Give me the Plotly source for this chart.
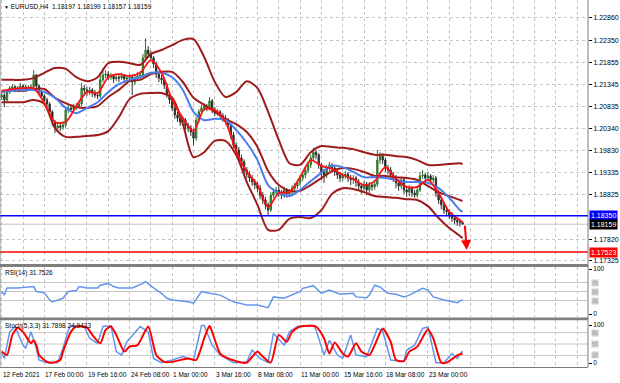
import plotly.graph_objects as go

# ---------------- DATA ----------------
first_open = 1.2106
closes = [
    1.2110, 1.2099, 1.2117, 1.2126, 1.2129, 1.2122, 1.2126, 1.2131, 1.2129, 1.2124,
    1.2126, 1.2129, 1.2156, 1.2131, 1.2117, 1.2108, 1.2099, 1.2090, 1.2072, 1.2049,
    1.2035, 1.2040, 1.2037, 1.2042, 1.2076, 1.2081, 1.2078, 1.2083, 1.2085, 1.2090,
    1.2126, 1.2122, 1.2117, 1.2122, 1.2115, 1.2110, 1.2108, 1.2145, 1.2156, 1.2158,
    1.2151, 1.2154, 1.2147, 1.2151, 1.2149, 1.2154, 1.2147, 1.2149, 1.2151, 1.2140,
    1.2149, 1.2154, 1.2156, 1.2195, 1.2213, 1.2204, 1.2195, 1.2181, 1.2158, 1.2149,
    1.2145, 1.2133, 1.2110, 1.2099, 1.2081, 1.2065, 1.2058, 1.2049, 1.2053, 1.2040,
    1.2035, 1.2026, 1.2012, 1.2053, 1.2072, 1.2081, 1.2085, 1.2081, 1.2097, 1.2076,
    1.2069, 1.2072, 1.2063, 1.2058, 1.2053, 1.2042, 1.2019, 1.1996, 1.1985, 1.1967,
    1.1958, 1.1939, 1.1930, 1.1921, 1.1912, 1.1905, 1.1898, 1.1882, 1.1871, 1.1860,
    1.1848, 1.1882, 1.1889, 1.1894, 1.1887, 1.1882, 1.1894, 1.1885, 1.1889, 1.1898,
    1.1903, 1.1910, 1.1921, 1.1928, 1.1939, 1.1951, 1.1967, 1.1980, 1.1974, 1.1951,
    1.1935, 1.1928, 1.1944, 1.1951, 1.1944, 1.1935, 1.1928, 1.1921, 1.1926, 1.1930,
    1.1921, 1.1917, 1.1921, 1.1912, 1.1903, 1.1898, 1.1907, 1.1894, 1.1905, 1.1901,
    1.1907, 1.1962, 1.1971, 1.1962, 1.1944, 1.1939, 1.1928, 1.1921, 1.1910, 1.1903,
    1.1917, 1.1894, 1.1889, 1.1898, 1.1887, 1.1882, 1.1894, 1.1926, 1.1928, 1.1921,
    1.1926, 1.1917, 1.1921, 1.1887, 1.1871, 1.1860, 1.1848, 1.1844, 1.1837, 1.1830,
    1.1825, 1.1821, 1.18197, 1.18159]
highs = [
    1.2117, 1.2115, 1.2122, 1.2131, 1.2135, 1.2133, 1.2131, 1.2138, 1.2135, 1.2133,
    1.2133, 1.2135, 1.2167, 1.2158, 1.2135, 1.2122, 1.2113, 1.2104, 1.2094, 1.2076,
    1.2053, 1.2047, 1.2047, 1.2051, 1.2083, 1.2088, 1.2088, 1.2090, 1.2092, 1.2097,
    1.2138, 1.2133, 1.2129, 1.2129, 1.2126, 1.2122, 1.2117, 1.2163, 1.2172, 1.2167,
    1.2165, 1.2161, 1.2158, 1.2158, 1.2158, 1.2161, 1.2158, 1.2156, 1.2158, 1.2156,
    1.2156, 1.2163, 1.2165, 1.2204, 1.2240, 1.2222, 1.2211, 1.2199, 1.2186, 1.2165,
    1.2156, 1.2151, 1.2138, 1.2117, 1.2104, 1.2085, 1.2072, 1.2065, 1.2060, 1.2058,
    1.2047, 1.2042, 1.2033, 1.2060, 1.2078, 1.2088, 1.2092, 1.2090, 1.2106, 1.2101,
    1.2083, 1.2078, 1.2076, 1.2069, 1.2065, 1.2058, 1.2047, 1.2026, 1.2003, 1.1992,
    1.1974, 1.1964, 1.1946, 1.1937, 1.1928, 1.1919, 1.1912, 1.1905, 1.1889, 1.1878,
    1.1866, 1.1889, 1.1898, 1.1901, 1.1901, 1.1894, 1.1901, 1.1898, 1.1896, 1.1905,
    1.1910, 1.1917, 1.1928, 1.1935, 1.1946, 1.1958, 1.1974, 1.1990, 1.1985, 1.1978,
    1.1955, 1.1942, 1.1951, 1.1958, 1.1955, 1.1949, 1.1939, 1.1935, 1.1933, 1.1937,
    1.1935, 1.1928, 1.1928, 1.1926, 1.1919, 1.1910, 1.1914, 1.1912, 1.1912, 1.1912,
    1.1917, 1.1985, 1.1980, 1.1978, 1.1967, 1.1951, 1.1946, 1.1935, 1.1928, 1.1917,
    1.1923, 1.1921, 1.1901, 1.1905, 1.1903, 1.1894, 1.1903, 1.1935, 1.1939, 1.1933,
    1.1935, 1.1930, 1.1928, 1.1926, 1.1894, 1.1878, 1.1864, 1.1855, 1.1850, 1.1844,
    1.1837, 1.1832, 1.1828, 1.18199]
lows = [
    1.2099, 1.2083, 1.2092, 1.2113, 1.2120, 1.2117, 1.2117, 1.2122, 1.2122, 1.2117,
    1.2120, 1.2122, 1.2124, 1.2124, 1.2110, 1.2101, 1.2092, 1.2083, 1.2065, 1.2040,
    1.2024, 1.2028, 1.2028, 1.2031, 1.2037, 1.2069, 1.2072, 1.2072, 1.2076, 1.2081,
    1.2085, 1.2113, 1.2108, 1.2110, 1.2106, 1.2104, 1.2101, 1.2104, 1.2140, 1.2149,
    1.2145, 1.2145, 1.2138, 1.2142, 1.2140, 1.2145, 1.2138, 1.2140, 1.2142, 1.2110,
    1.2133, 1.2142, 1.2147, 1.2151, 1.2190, 1.2195, 1.2188, 1.2172, 1.2149, 1.2140,
    1.2135, 1.2124, 1.2104, 1.2090, 1.2074, 1.2056, 1.2049, 1.2040, 1.2042, 1.2031,
    1.2026, 1.2017, 1.1996, 1.2006, 1.2047, 1.2065, 1.2074, 1.2074, 1.2076, 1.2069,
    1.2063, 1.2063, 1.2056, 1.2049, 1.2044, 1.2033, 1.2010, 1.1990, 1.1976, 1.1958,
    1.1949, 1.1930, 1.1921, 1.1912, 1.1903, 1.1896, 1.1889, 1.1873, 1.1862, 1.1850,
    1.1837, 1.1844, 1.1876, 1.1882, 1.1878, 1.1873, 1.1876, 1.1876, 1.1878, 1.1882,
    1.1892, 1.1896, 1.1903, 1.1914, 1.1921, 1.1933, 1.1944, 1.1960, 1.1964, 1.1942,
    1.1917, 1.1910, 1.1921, 1.1937, 1.1935, 1.1926, 1.1919, 1.1912, 1.1914, 1.1919,
    1.1912, 1.1905, 1.1907, 1.1901, 1.1894, 1.1885, 1.1889, 1.1882, 1.1887, 1.1892,
    1.1894, 1.1901, 1.1953, 1.1953, 1.1935, 1.1930, 1.1919, 1.1912, 1.1898, 1.1892,
    1.1896, 1.1885, 1.1878, 1.1880, 1.1878, 1.1876, 1.1876, 1.1889, 1.1919, 1.1912,
    1.1914, 1.1907, 1.1910, 1.1878, 1.1862, 1.1850, 1.1839, 1.1835, 1.1828, 1.1821,
    1.1816, 1.1812, 1.1810, 1.18157]
opens = [first_open] + closes[:-1]
bars = list(range(len(closes)))

# indicator lines sampled every 4 bars (plus the last bar)
line_bars = list(range(0, 173, 4)) + [173]
ma_fast = [1.2120, 1.2124, 1.2126, 1.2126, 1.2092, 1.2049, 1.2049, 1.2085, 1.2117, 1.2115,
           1.2151, 1.2158, 1.2154, 1.2161, 1.2190, 1.2161, 1.2099, 1.2058, 1.2028, 1.2078,
           1.2076, 1.2049, 1.1983, 1.1935, 1.1905, 1.1855, 1.1887, 1.1889, 1.1923, 1.1962,
           1.1949, 1.1942, 1.1928, 1.1919, 1.1905, 1.1914, 1.1946, 1.1919, 1.1901, 1.1901,
           1.1917, 1.1887, 1.1844, 1.1825, 1.1821]
ma_slow = [1.2117, 1.2120, 1.2122, 1.2122, 1.2117, 1.2104, 1.2081, 1.2069, 1.2081, 1.2094,
           1.2117, 1.2135, 1.2145, 1.2151, 1.2161, 1.2161, 1.2151, 1.2122, 1.2072, 1.2053,
           1.2056, 1.2053, 1.2031, 1.2001, 1.1962, 1.1905, 1.1887, 1.1880, 1.1894, 1.1914,
           1.1933, 1.1949, 1.1946, 1.1935, 1.1923, 1.1923, 1.1921, 1.1917, 1.1912, 1.1912,
           1.1910, 1.1898, 1.1876, 1.1848, 1.1844]
bb_upper = [1.2145, 1.2145, 1.2145, 1.2149, 1.2161, 1.2172, 1.2170, 1.2151, 1.2142, 1.2151,
            1.2183, 1.2186, 1.2183, 1.2179, 1.2204, 1.2213, 1.2224, 1.2236, 1.2238, 1.2197,
            1.2140, 1.2106, 1.2117, 1.2142, 1.2126, 1.2072, 1.2008, 1.1955, 1.1951, 1.1980,
            1.1994, 1.1992, 1.1990, 1.1987, 1.1980, 1.1974, 1.1974, 1.1971, 1.1969, 1.1962,
            1.1951, 1.1951, 1.1953, 1.1955, 1.1953]
bb_mid = [1.2120, 1.2120, 1.2120, 1.2124, 1.2124, 1.2104, 1.2092, 1.2083, 1.2081, 1.2085,
          1.2106, 1.2122, 1.2142, 1.2145, 1.2158, 1.2163, 1.2163, 1.2140, 1.2104, 1.2088,
          1.2072, 1.2056, 1.2044, 1.2026, 1.1992, 1.1937, 1.1905, 1.1892, 1.1892, 1.1905,
          1.1921, 1.1937, 1.1944, 1.1942, 1.1935, 1.1926, 1.1926, 1.1923, 1.1921, 1.1917,
          1.1903, 1.1889, 1.1880, 1.1871, 1.1869]
bb_lower = [1.2094, 1.2094, 1.2094, 1.2099, 1.2090, 1.2035, 1.2015, 1.2015, 1.2017, 1.2019,
            1.2028, 1.2060, 1.2101, 1.2113, 1.2115, 1.2115, 1.2104, 1.2044, 1.1969, 1.1980,
            1.2006, 1.2006, 1.1974, 1.1912, 1.1860, 1.1803, 1.1803, 1.1828, 1.1832, 1.1830,
            1.1848, 1.1885, 1.1898, 1.1896, 1.1889, 1.1880, 1.1878, 1.1876, 1.1873, 1.1871,
            1.1857, 1.1830, 1.1807, 1.1789, 1.1784]

rsi_bars = [0, 1, 2, 6, 12, 13, 16, 18, 19, 23, 25, 28, 29, 32, 36, 37, 40, 42, 44, 49,
            53, 54, 57, 60, 62, 64, 70, 72, 75, 77, 82, 87, 92, 96, 100, 102, 106, 110, 112, 113,
            117, 120, 123, 127, 132, 133, 137, 138, 140, 142, 145, 148, 151, 153, 158, 160, 162, 166, 171, 173]
rsi_vals = [50, 42, 58, 58, 61, 50, 47, 31, 27, 35, 50, 52, 61, 58, 58, 64, 68, 61, 58, 58,
            68, 72, 58, 46, 35, 31, 27, 24, 50, 47, 42, 27, 20, 20, 14, 38, 35, 46, 50, 57,
            63, 46, 53, 44, 46, 38, 36, 42, 64, 60, 46, 44, 38, 42, 57, 53, 38, 31, 25, 31.7526]

k_bars = [0, 1, 3, 5, 8, 9, 11, 13, 14, 17, 21, 23, 25, 26, 31, 33, 36, 38, 41, 43,
          45, 47, 52, 55, 57, 60, 64, 68, 72, 75, 76, 79, 82, 87, 92, 94, 97, 100, 102, 106,
          108, 111, 117, 118, 121, 123, 126, 128, 131, 133, 137, 141, 143, 146, 151, 152, 155, 158, 160, 163,
          166, 169, 171, 173]
k_vals = [26, 12, 82, 96, 47, 39, 82, 39, 8, 1, 1, 39, 87, 98, 96, 65, 52, 96, 98, 30,
          21, 56, 96, 82, 12, 1, 8, 17, 8, 99, 99, 47, 21, 1, 3, 34, 12, 1, 78, 47,
          82, 96, 99, 87, 21, 60, 21, 12, 74, 21, 17, 91, 85, 8, 5, 34, 47, 91, 95, 1,
          1, 25, 12, 31.7898]
d_bars = [0, 2, 4, 6, 8, 11, 12, 13, 14, 17, 19, 22, 23, 26, 28, 32, 34, 37, 39, 41,
          43, 46, 48, 51, 55, 58, 61, 64, 70, 73, 76, 78, 79, 82, 85, 90, 92, 96, 98, 101,
          104, 107, 109, 112, 118, 121, 123, 125, 128, 130, 133, 135, 138, 140, 143, 146, 148, 151, 153, 156,
          160, 162, 165, 167, 171, 173]
d_vals = [30, 21, 74, 93, 82, 52, 60, 47, 21, 3, 1, 8, 30, 82, 96, 93, 74, 52, 87, 96,
          74, 30, 43, 47, 96, 21, 3, 3, 12, 8, 65, 98, 82, 25, 12, 1, 1, 30, 17, 1,
          74, 56, 82, 96, 96, 65, 25, 54, 25, 17, 52, 30, 21, 47, 91, 56, 8, 5, 30, 43,
          89, 65, 1, 1, 20, 24.9433]

price_ticks = [1.22860, 1.22350, 1.21855, 1.21345, 1.20835, 1.20340, 1.19830,
               1.19335, 1.18825, 1.17820, 1.17325]
time_bars = [0, 16, 32, 48, 64, 80, 96, 112, 128, 144, 160]
time_labels = ["12 Feb 2021", "17 Feb 00:00", "19 Feb 16:00", "24 Feb 08:00", "1 Mar 00:00",
               "3 Mar 16:00", "8 Mar 08:00", "11 Mar 00:00", "15 Mar 16:00", "18 Mar 08:00",
               "23 Mar 00:00"]
level_blue = 1.18350
level_red = 1.17523
bid = 1.18159
rsi_levels = [70, 50, 30]
stoch_levels = [80, 50, 20]
title_text = "EURUSD,H4  1.18197 1.18199 1.18157 1.18159"
rsi_text = "RSI(14) 31.7526"
stoch_text = "Stoch(5,3,3) 31.7898 24.9433"

# ---------------- FIGURE ----------------
FONT = "Liberation Sans, Arial, sans-serif"
GRID = "#c4c4c4"
BB_COL = "#9e1b1b"
H_PLOT = 367.0


def py(p):
    return 1 - p / H_PLOT


fig = go.Figure()

fig.add_trace(go.Candlestick(
    x=bars, open=opens, high=highs, low=lows, close=closes,
    increasing=dict(line=dict(color="#2f6f2f", width=1), fillcolor="#2db52d"),
    decreasing=dict(line=dict(color="#303030", width=1), fillcolor="#202020"),
    whiskerwidth=0, xaxis="x", yaxis="y", hoverinfo="skip"))

for arr, col, w in [(bb_upper, BB_COL, 2), (bb_mid, BB_COL, 2), (bb_lower, BB_COL, 2),
                    (ma_slow, "#4a7ef0", 2), (ma_fast, "#ff1010", 1.8)]:
    fig.add_trace(go.Scatter(x=line_bars, y=arr, mode="lines", xaxis="x", yaxis="y",
                             line=dict(color=col, width=w, shape="spline", smoothing=0.8),
                             hoverinfo="skip"))

fig.add_trace(go.Scatter(x=rsi_bars, y=rsi_vals, mode="lines", xaxis="x2", yaxis="y2",
                         line=dict(color="#6495ed", width=1.5), hoverinfo="skip"))
fig.add_trace(go.Scatter(x=k_bars, y=k_vals, mode="lines", xaxis="x3", yaxis="y3",
                         line=dict(color="#6495ed", width=1.5), hoverinfo="skip"))
fig.add_trace(go.Scatter(x=d_bars, y=d_vals, mode="lines", xaxis="x3", yaxis="y3",
                         line=dict(color="#ff0000", width=2, shape="spline", smoothing=0.6),
                         hoverinfo="skip"))

x_range = [-0.64, 220.08]
main_dom = [py(263), 1]
rsi_dom = [py(317), py(267)]
sto_dom = [0, py(320)]

xcommon = dict(range=x_range, showgrid=True, gridcolor=GRID, griddash="dot", gridwidth=1,
               tick0=0, dtick=8, zeroline=False, showticklabels=False, ticks="")
fig.update_layout(
    width=620, height=383, margin=dict(l=0, r=32, t=0, b=16, autoexpand=False),
    paper_bgcolor="white", plot_bgcolor="white", showlegend=False,
    font=dict(family=FONT, size=6.5, color="black"),
    xaxis=dict(domain=[0, 1], anchor="y", rangeslider=dict(visible=False), **xcommon),
    xaxis2=dict(domain=[0, 1], anchor="y2", matches="x", **xcommon),
    xaxis3=dict(domain=[0, 1], anchor="y3", matches="x", showline=True, linecolor="#7a7a7a",
                linewidth=1, **xcommon),
    yaxis=dict(domain=main_dom, range=[1.17274, 1.2327], side="right", anchor="x",
               tickmode="array", tickvals=price_ticks, ticktext=["%.5f" % v for v in price_ticks],
               ticks="outside", ticklen=3, tickcolor="#000", tickfont=dict(size=7, family=FONT),
               showgrid=True, gridcolor=GRID, griddash="dot", zeroline=False),
    yaxis2=dict(domain=rsi_dom, range=[-6.67, 104.44], side="right", anchor="x2",
                tickmode="array", tickvals=[0, 100], ticktext=["0", "100"],
                ticks="outside", ticklen=3, tickcolor="#000", tickfont=dict(size=6.5, family=FONT),
                showgrid=False, zeroline=False),
    yaxis3=dict(domain=sto_dom, range=[-10.5, 113.2], side="right", anchor="x3",
                tickmode="array", tickvals=[0, 100], ticktext=["0", "100"],
                ticks="outside", ticklen=3, tickcolor="#000", tickfont=dict(size=6.5, family=FONT),
                showgrid=False, zeroline=False),
)

shapes = []
shapes.append(dict(type="line", xref="paper", x0=0, x1=1, yref="y", y0=bid, y1=bid,
                   line=dict(color="#c0c0c0", width=1), layer="below"))
shapes.append(dict(type="line", xref="paper", x0=0, x1=1, yref="y", y0=level_blue, y1=level_blue,
                   line=dict(color="#0000ff", width=1.5)))
shapes.append(dict(type="line", xref="paper", x0=0, x1=1, yref="y", y0=level_red, y1=level_red,
                   line=dict(color="#ff0000", width=1.5)))
for lv in rsi_levels:
    shapes.append(dict(type="line", xref="paper", x0=0, x1=1, yref="y2", y0=lv, y1=lv,
                       line=dict(color="#c8c8c8", width=1), layer="below"))
for lv in stoch_levels:
    shapes.append(dict(type="line", xref="paper", x0=0, x1=1, yref="y3", y0=lv, y1=lv,
                       line=dict(color="#c8c8c8", width=1), layer="below"))
shapes.append(dict(type="rect", xref="paper", yref="paper", x0=0, x1=1, y0=py(267), y1=py(264),
                   fillcolor="#7f7f7f", line=dict(width=0)))
shapes.append(dict(type="rect", xref="paper", yref="paper", x0=0, x1=1, y0=py(320.3), y1=py(317.5),
                   fillcolor="#7f7f7f", line=dict(width=0)))
shapes.append(dict(type="line", xref="paper", yref="paper", x0=1, x1=1, y0=0, y1=1,
                   line=dict(color="#7a7a7a", width=1)))
shapes.append(dict(type="line", xref="paper", yref="paper", x0=0, x1=0, y0=0, y1=1,
                   line=dict(color="#7a7a7a", width=1)))
fig.update_layout(shapes=shapes)

ann = []
ann.append(dict(xref="paper", yref="paper", x=0, y=1, xanchor="left", yanchor="top",
                xshift=2, yshift=-1, showarrow=False,
                text="<span style='font-size:5px'>▼</span> " + title_text,
                font=dict(size=6.5, family=FONT, color="black")))
ann.append(dict(xref="paper", yref="paper", x=0, y=rsi_dom[1], xanchor="left", yanchor="top",
                xshift=3, yshift=0, showarrow=False, text=rsi_text,
                font=dict(size=6.5, family=FONT, color="black")))
ann.append(dict(xref="paper", yref="paper", x=0, y=sto_dom[1], xanchor="left", yanchor="top",
                xshift=3, yshift=0, showarrow=False, text=stoch_text,
                font=dict(size=6.5, family=FONT, color="black")))
for b, lab in zip(time_bars, time_labels):
    ann.append(dict(xref="x", yref="paper", x=b, y=0, xanchor="left", yanchor="top",
                    xshift=-1, yshift=-2, showarrow=False, text=lab,
                    font=dict(size=6.5, family=FONT, color="black")))
for val, bg in [(level_blue, "#0000ff"), (bid, "#000000"), (level_red, "#ff0000")]:
    ann.append(dict(xref="paper", yref="y", x=1, y=val, xanchor="left", yanchor="middle",
                    xshift=1, showarrow=False, text="%.5f" % val, bgcolor=bg, borderpad=1,
                    font=dict(size=7, family=FONT, color="white")))
for lv in rsi_levels:
    ann.append(dict(xref="paper", yref="y2", x=1, y=lv, xanchor="left", yanchor="middle",
                    xshift=3, showarrow=False, text=str(lv), bgcolor="#d0d0d0", borderpad=0,
                    font=dict(size=5.5, family=FONT, color="#a0a0a0")))
for lv in stoch_levels:
    ann.append(dict(xref="paper", yref="y3", x=1, y=lv, xanchor="left", yanchor="middle",
                    xshift=3, showarrow=False, text=str(lv), bgcolor="#d0d0d0", borderpad=0,
                    font=dict(size=5.5, family=FONT, color="#a0a0a0")))
ann.append(dict(xref="x", yref="y", x=174.6, y=1.1757, axref="x", ayref="y",
                ax=173.8, ay=1.1816, showarrow=True, arrowhead=2, arrowsize=1,
                arrowwidth=2, arrowcolor="#ff0000", text=""))
fig.update_layout(annotations=ann)

fig.write_html("out.html", config={"displayModeBar": False, "staticPlot": True})

# remove the default page margin so the 620x383 figure fills the window exactly
with open("out.html", "r", encoding="utf-8") as f:
    html = f.read()
html = html.replace("<head>", "<head><style>html,body{margin:0;padding:0;overflow:hidden;}</style>", 1)
with open("out.html", "w", encoding="utf-8") as f:
    f.write(html)
